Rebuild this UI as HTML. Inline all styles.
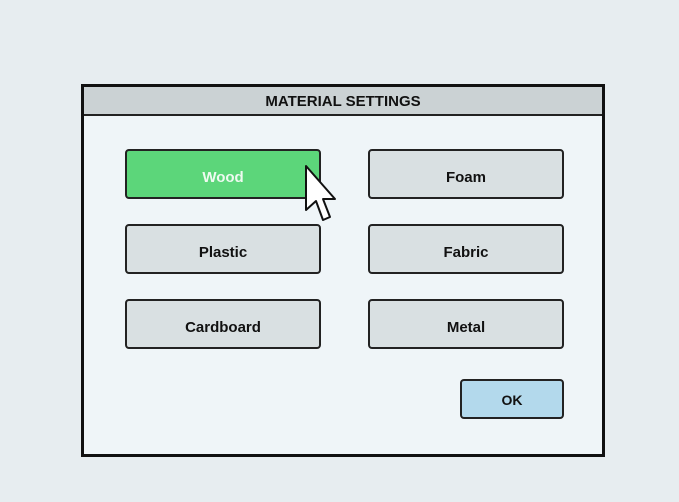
<!DOCTYPE html>
<html><head><style>
body{margin:0;width:679px;height:502px;background:#e7edf0;position:relative;overflow:hidden;font-family:"Liberation Sans",sans-serif;}
.dlg{position:absolute;left:81px;top:84px;width:518px;height:367px;border:3px solid #111;background:#eff5f8;}
.title{position:absolute;left:0;top:0;width:518px;height:27px;background:#cbd2d4;border-bottom:2px solid #222;text-align:center;line-height:29px;font-weight:bold;font-size:15px;color:#111;}
.b{position:absolute;width:192px;height:46px;border:2px solid #222;border-radius:4px;background:#d9e0e2;text-align:center;line-height:54px;font-weight:bold;font-size:15px;color:#111;box-sizing:content-box;}
</style></head><body>
<div class="dlg"><div class="title">MATERIAL SETTINGS</div></div>
<div class="b" style="left:125px;top:149px;background:#5cd67a;color:#eefaf0">Wood</div>
<div class="b" style="left:368px;top:149px">Foam</div>
<div class="b" style="left:125px;top:224px">Plastic</div>
<div class="b" style="left:368px;top:224px">Fabric</div>
<div class="b" style="left:125px;top:299px">Cardboard</div>
<div class="b" style="left:368px;top:299px">Metal</div>
<div class="b" style="left:460px;top:379px;width:100px;height:36px;line-height:39px;background:#b3d9ec;font-size:14px">OK</div>
<svg style="position:absolute;left:0;top:0" width="679" height="502">
<path d="M306,166 L306,210 L316,201 L323,220 L330,217 L323,199 L335,199 Z" fill="#fff" stroke="#111" stroke-width="2" stroke-linejoin="round"/>
</svg>
</body></html>
